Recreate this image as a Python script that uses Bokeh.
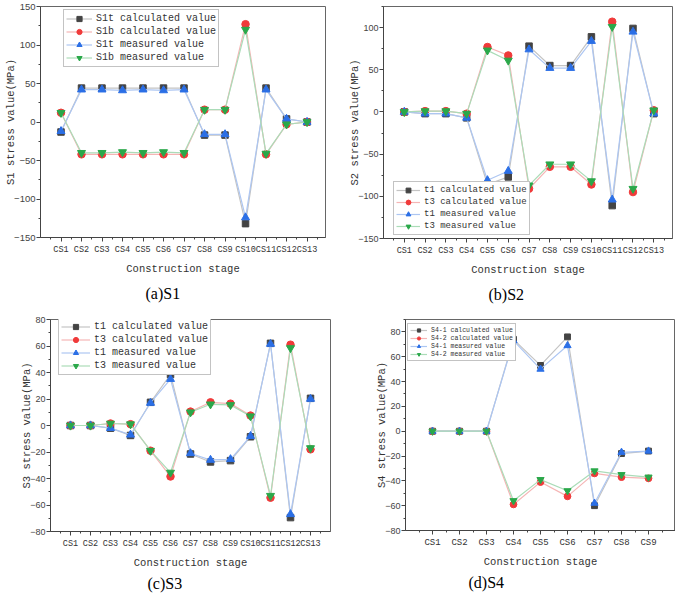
from bokeh.plotting import figure
from bokeh.models import Range1d, FixedTicker, Legend, LegendItem, Title
from bokeh.layouts import column, row
from bokeh.embed import file_html
from bokeh.resources import INLINE

# ---------------- data ----------------
stages_13 = ["CS1", "CS2", "CS3", "CS4", "CS5", "CS6", "CS7", "CS8", "CS9", "CS10", "CS11", "CS12", "CS13"]
stages_9 = ["CS1", "CS2", "CS3", "CS4", "CS5", "CS6", "CS7", "CS8", "CS9"]

# (a) S1
s1_labels = ["S1t calculated value", "S1b calculated value", "S1t measured value", "S1b measured value"]
s1t_calc = [-13, 44, 44, 44, 44, 44, 44, -17, -17, -132, 44, 4, 0]
s1b_calc = [12, -42, -42, -42, -42, -42, -42, 16, 16, 127, -42, -3, 0]
s1t_meas = [-12, 42, 42, 41, 42, 41, 42, -16, -16, -124, 42, 4, 0]
s1b_meas = [12, -40, -40, -39, -40, -39, -40, 16, 16, 120, -41, -3, 0]

# (b) S2
s2_labels = ["t1 calculated value", "t3 calculated value", "t1 measured value", "t3 measured value"]
s2_t1_calc = [0, -2, -2, -7, -86, -77, 78, 55, 55, 89, -111, 99, -2]
s2_t3_calc = [0, 1, 1, -2, 77, 67, -91, -65, -65, -86, 107, -95, 2]
s2_t1_meas = [0, -2, -2, -7, -81, -70, 74, 52, 52, 84, -104, 95, -2]
s2_t3_meas = [0, 1, 1, -2, 73, 61, -87, -62, -62, -82, 101, -91, 2]

# (c) S3
s3_labels = ["t1 calculated value", "t3 calculated value", "t1 measured value", "t3 measured value"]
s3_t1_calc = [0, 0, -2, -7.5, 17.5, 38.5, -21.5, -27.5, -26.5, -8.5, 62, -69.5, 20.5]
s3_t3_calc = [0, 0, 1.5, 1, -19, -38.5, 10.5, 17.5, 16.5, 7.5, -54.5, 61, -18]
s3_t1_meas = [0, 0, -2, -7, 17, 35, -21, -26, -25.5, -8, 61.5, -67, 20]
s3_t3_meas = [0, 0, 1.5, 1, -19, -35.5, 10, 16, 15.5, 7, -53, 58.5, -17]

# (d) S4
s4_labels = ["S4-1 calculated value", "S4-2 calculated value", "S4-1 measured value", "S4-2 measured value"]
s4_1_calc = [0, 0, 0, 74, 53, 76, -60, -18, -16]
s4_2_calc = [0, 0, 0, -59, -41, -52.5, -34, -37, -38]
s4_1_meas = [0, 0, 0, 73, 50, 69, -58, -17, -16]
s4_2_meas = [0, 0, 0, -56, -39, -48, -32, -35, -37]

# ---------------- style ----------------
MONO = "Liberation Mono"
SERIF = "Liberation Serif"
SANS = "Liberation Sans"
MARKERS = ["square", "circle", "triangle", "inverted_triangle"]
MCOL = ["#444444", "#f03a3a", "#2b6fe6", "#2aa84a"]
LCOL = ["#c4c4c4", "#f5b5b5", "#adc6f2", "#abdcb8"]
MSIZE = [6.5, 7.5, 8, 8]
AXC = "#444444"


def make_panel(stages, series, labels, ylabel, y_range, x_end, y_step, caption,
               cap_offset, cap_standoff, fw, fh, bl, br, bt, bb, leg_xy, leg_font,
               leg_row, leg_glyph_w, tick_font, ytick_font, msc=1.0):
    xs = list(range(1, len(stages) + 1))
    p = figure(frame_width=fw, frame_height=fh, x_range=Range1d(0, x_end),
               y_range=Range1d(*y_range), output_backend="svg", toolbar_location=None,
               min_border_left=bl, min_border_right=br, min_border_top=bt, min_border_bottom=bb)
    p.xgrid.visible = False
    p.ygrid.visible = False
    p.outline_line_color = "#666666"
    p.outline_line_width = 1
    p.background_fill_color = "white"
    p.border_fill_color = "white"

    items = []
    for vals, lab, m, mc, lc, ms in zip(series, labels, MARKERS, MCOL, LCOL, MSIZE):
        r1 = p.line(xs, vals, line_color=lc, line_width=1.2)
        r2 = p.scatter(xs, vals, marker=m, size=ms * msc, fill_color=mc, line_color=mc)
        items.append(LegendItem(label=lab, renderers=[r1, r2]))

    leg = Legend(items=items, location=leg_xy, label_text_font=MONO,
                 label_text_font_size=leg_font, label_text_color="#333333",
                 glyph_height=leg_row, label_height=leg_row, glyph_width=leg_glyph_w,
                 spacing=0, padding=2, margin=0, label_standoff=4,
                 border_line_color="#888888", border_line_width=1,
                 background_fill_color="white", background_fill_alpha=1.0)
    p.add_layout(leg)

    xa = p.xaxis[0]
    xa.ticker = FixedTicker(ticks=xs, minor_ticks=[x - 0.5 for x in xs] + [xs[-1] + 0.5])
    xa.major_label_overrides = {x: s for x, s in zip(xs, stages)}
    xa.axis_label = "Construction stage"
    xa.axis_label_text_font = MONO
    xa.axis_label_text_font_size = "10.5px"
    xa.axis_label_text_font_style = "normal"
    xa.axis_label_text_color = "#333333"
    xa.axis_label_standoff = 5
    xa.major_label_text_font = MONO
    xa.major_label_text_font_size = tick_font
    xa.major_label_text_color = "#333333"
    xa.major_label_standoff = 3

    ya = p.yaxis[0]
    lo, hi = y_range
    start = int(lo // y_step) * y_step
    majors = [v for v in range(start, int(hi) + 1, y_step) if v >= lo]
    minors = [v + y_step / 2 for v in range(start - y_step, int(hi) + 1, y_step)
              if lo <= v + y_step / 2 <= hi]
    ya.ticker = FixedTicker(ticks=majors, minor_ticks=minors)
    ya.axis_label = ylabel
    ya.axis_label_text_font = MONO
    ya.axis_label_text_font_size = "10.5px"
    ya.axis_label_text_font_style = "normal"
    ya.axis_label_text_color = "#333333"
    ya.axis_label_standoff = -6
    ya.major_label_text_font = SANS
    ya.major_label_text_font_size = ytick_font
    ya.major_label_text_color = "#444444"
    ya.major_label_standoff = 1

    for ax in (xa, ya):
        ax.axis_line_color = AXC
        ax.major_tick_line_color = AXC
        ax.minor_tick_line_color = AXC
        ax.major_tick_out = 4
        ax.major_tick_in = 0
        ax.minor_tick_out = 2
        ax.minor_tick_in = 0

    t = Title(text=caption, align="left", offset=cap_offset, text_font=SERIF,
              text_font_size="16px", text_font_style="normal", text_color="black",
              standoff=cap_standoff)
    p.add_layout(t, "below")
    return p


pa = make_panel(stages_13, [s1t_calc, s1b_calc, s1t_meas, s1b_meas], s1_labels,
                "S1 stress value(MPa)", (-150, 150), 13.9, 50, "(a)S1", 105, 11,
                285, 231, 40, 21, 6, 70, (23, 170), "10px", 13, 26, "8.5px", "9.5px")
pb = make_panel(stages_13, [s2_t1_calc, s2_t3_calc, s2_t1_meas, s2_t3_meas], s2_labels,
                "S2 stress value(MPa)", (-150, 125), 13.9, 50, "(b)S2", 105, 11,
                289, 232, 36, 4, 6, 69, (10, 3), "9px", 12, 24, "8.5px", "9px")
pc = make_panel(stages_13, [s3_t1_calc, s3_t3_calc, s3_t1_meas, s3_t3_meas], s3_labels,
                "S3 stress value(MPa)", (-80, 80), 14.0, 20, "(c)S3", 97, 2,
                280, 212, 50, 16, 6, 74, (8, 156), "10px", 13, 29, "8.5px", "9px")
pd = make_panel(stages_9, [s4_1_calc, s4_2_calc, s4_1_meas, s4_2_meas], s4_labels,
                "S4 stress value(MPa)", (-80, 90), 10.0, 20, "(d)S4", 63, 2,
                270, 211, 59, 0, 11, 64, (2, 169), "6.5px", 8, 17, "9px", "9px", msc=0.9)

layout = column(row(pa, pb), row(pc, pd))
open("out.html", "w").write(file_html(layout, INLINE))
